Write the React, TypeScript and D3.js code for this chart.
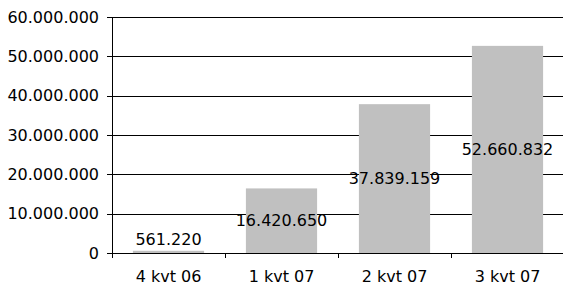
import React from 'react';
import * as d3 from 'd3';

const categories = ['4 kvt 06', '1 kvt 07', '2 kvt 07', '3 kvt 07'];
const values = [561220, 16420650, 37839159, 52660832];
const yTicks = [0, 10000000, 20000000, 30000000, 40000000, 50000000, 60000000];

const width = 563;
const height = 285;
const margin = { top: 17, right: 0, bottom: 32, left: 112 };
const font = '"DejaVu Sans", Verdana, sans-serif';

const fmt = d3.formatLocale({ decimal: ',', thousands: '.', grouping: [3], currency: ['', ''] }).format(',d');

const App = () => {
  const x = d3
    .scaleBand()
    .domain(categories)
    .range([margin.left, width - margin.right + 1])
    .paddingInner(0.37)
    .paddingOuter(0.185);
  const y = d3.scaleLinear().domain([0, 60000000]).range([height - margin.bottom, margin.top]);
  const y0 = y(0);
  const step = x.step();
  const bandStart = (c) => x(c) - step * x.paddingOuter();

  return (
    <svg width={width} height={height} style={{ position: 'absolute', left: 0, top: 0 }} fontFamily={font}>
      <rect width={width} height={height} fill="#fff" />
      {yTicks.map((t) => (
        <g key={t}>
          <line x1={margin.left - 5} x2={width} y1={Math.round(y(t)) + 0.5} y2={Math.round(y(t)) + 0.5} stroke="#000" />
          <text x={margin.left - 13} y={y(t)} dy="0.36em" textAnchor="end" fontSize={16} fill="#000">
            {fmt(t)}
          </text>
        </g>
      ))}
      {categories.map((c, i) => (
        <rect
          key={c}
          x={x(c)}
          width={x.bandwidth()}
          y={y(values[i])}
          height={y0 - y(values[i])}
          fill="#c0c0c0"
        />
      ))}
      <line x1={margin.left + 0.5} x2={margin.left + 0.5} y1={margin.top} y2={y0} stroke="#000" />
      <line x1={margin.left} x2={width} y1={Math.round(y0) + 0.5} y2={Math.round(y0) + 0.5} stroke="#000" />
      {categories.map((c) => (
        <line
          key={'t' + c}
          x1={Math.round(bandStart(c)) + 0.5}
          x2={Math.round(bandStart(c)) + 0.5}
          y1={y0}
          y2={y0 + 5}
          stroke="#000"
        />
      ))}
      {categories.map((c) => (
        <text key={'l' + c} x={x(c) + x.bandwidth() / 2} y={281.5} textAnchor="middle" fontSize={16} fill="#000">
          {c}
        </text>
      ))}
      {categories.map((c, i) => {
        const cy = Math.min(y(values[i] / 2), y0 - 14);
        return (
          <text
            key={'v' + c}
            x={x(c) + x.bandwidth() / 2}
            y={cy}
            dy="0.36em"
            textAnchor="middle"
            fontSize={16}
            fill="#000"
          >
            {fmt(values[i])}
          </text>
        );
      })}
    </svg>
  );
};

export default App;
